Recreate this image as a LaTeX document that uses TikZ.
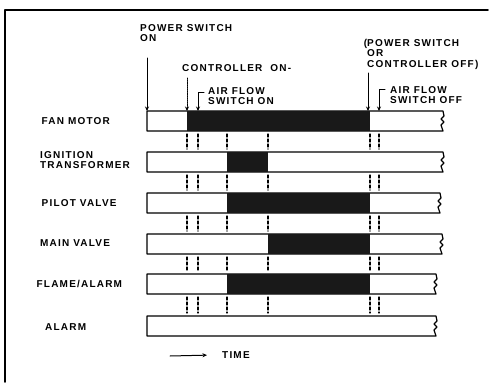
\documentclass[tikz,border=0pt]{standalone}
\usepackage{fontspec}
\newfontfamily\lblfont{Liberation Sans}[LetterSpace=12]
\usetikzlibrary{arrows.meta,calc,positioning}

\begin{document}
\begin{tikzpicture}[x=1pt,y=-1pt,>={Stealth[length=4.5pt,width=4pt]},line cap=round,line join=round]
\path[fill=white] (0,0) rectangle (504,382);
\tikzset{lbl/.style={font=\lblfont\bfseries\fontsize{10}{10.4}\selectfont,inner sep=0pt,anchor=north west,align=left},bar/.style={draw=black,line width=1.2pt,fill=white},onpart/.style={fill=black!90},event/.style={draw=black,line width=1.1pt,dash pattern=on 3pt off 2pt},pointer/.style={draw=black,line width=1pt,->},dotpointer/.style={pointer,dash pattern=on 1.2pt off 1pt}}
% frame
\draw[line width=1.6pt] (5,382) -- (5,10) -- (488,10);
% signal bars
\foreach \t/\r in {111/443,152/443,193/440,234/442,274/436,316/436}{
  \draw[bar] (147,\t) -- (\r,\t) -- (\r+1,\t+5) -- (\r-2,\t+8) -- (\r+1,\t+11) -- (\r-2,\t+14) -- (\r,\t+20) -- (147,\t+20) -- cycle;
}
\fill[onpart] (187,111) rectangle (370,131);
\fill[onpart] (227,152) rectangle (268,172);
\fill[onpart] (227,193) rectangle (370,213);
\fill[onpart] (268,234) rectangle (370,254);
\fill[onpart] (227,274) rectangle (370,294);
% event lines between the bars
\foreach \x in {187,198,227,268,370,379}{
  \foreach \a/\b in {131/152,172/193,213/234,254/274,294/316}{
    \draw[event] (\x,\a+3) -- (\x,\b-3);
  }
}
% row labels
\node[lbl] (fan) at (41.5,117.5) {FAN MOTOR};
\node[lbl] (ign) at (40,151) {IGNITION\\TRANSFORMER};
\node[lbl] (pilot) at (41.5,199) {PILOT VALVE};
\node[lbl] (main) at (40,239) {MAIN VALVE};
\node[lbl] (flame) at (36.5,280) {FLAME/ALARM};
\node[lbl] (alarm) at (45,323) {ALARM};
% event labels
\node[lbl] (pwrOn) at (140,24) {POWER SWITCH\\ON};
\node[lbl] (ctrlOn) at (182,64) {CONTROLLER\ \ ON-};
\node[lbl] (airOn) at (208,87) {AIR FLOW\\SWITCH ON};
\node[lbl] (pwrOff) at (367,39) {\llap{(}POWER SWITCH\\OR\\CONTROLLER OFF)};
\node[lbl] (airOff) at (390,86) {AIR FLOW\\SWITCH OFF};
% event pointers
\coordinate (pwrTop) at (147,58); \coordinate (pwrAt) at (147,111);
\coordinate (ctrlTop) at (187,78); \coordinate (ctrlAt) at (187,111);
\coordinate (airHook) at (204,92); \coordinate (airAt) at (198,111);
\coordinate (offTop) at (368,73); \coordinate (offAt) at (368,111);
\coordinate (airOffHook) at (385,89); \coordinate (airOffAt) at (379,111);
\draw[pointer] (pwrTop) -- (pwrAt);
\draw[dotpointer] (ctrlTop) -- (ctrlAt);
\draw[pointer] (airHook) -| (airAt);
\draw[pointer] (offTop) -- (offAt);
\draw[pointer] (airOffHook) -| (airOffAt);
% time axis
\node[lbl] (time) at (222,351.5) {TIME};
\coordinate (tStart) at (170,356);
\draw[pointer] (tStart) -- ([xshift=-15pt]time.west);
\end{tikzpicture}
\end{document}
